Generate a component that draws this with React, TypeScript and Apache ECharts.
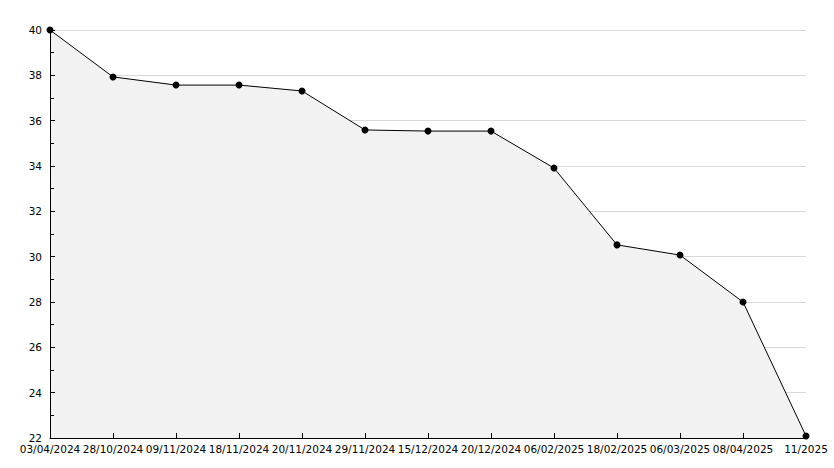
import React, { useEffect, useRef } from "react";
import * as echarts from "echarts";

const categories = [
  "03/04/2024", "28/10/2024", "09/11/2024", "18/11/2024", "20/11/2024",
  "29/11/2024", "15/12/2024", "20/12/2024", "06/02/2025", "18/02/2025",
  "06/03/2025", "08/04/2025", "11/2025",
];
const values = [40, 37.93, 37.57, 37.57, 37.31, 35.59, 35.54, 35.54, 33.91, 30.52, 30.07, 28.0, 22.09];
const yMin = 22;
const yMax = 40;
const yInterval = 2;
const gridValues = [24, 26, 28, 30, 32, 34, 36, 38, 40];

export default function App() {
  const ref = useRef<HTMLDivElement>(null);
  useEffect(() => {
    if (!ref.current) return;
    const chart = echarts.init(ref.current, null, { renderer: "svg" });
    const font = { fontFamily: "DejaVu Sans", fontSize: 10.5, color: "#000" };
    const areaLayer = (z: number) => ({
      type: "line",
      data: values,
      showSymbol: false,
      silent: true,
      lineStyle: { width: 0, opacity: 0 },
      itemStyle: { opacity: 1 },
      areaStyle: { color: "rgb(242,242,242)", opacity: 1, origin: "start" },
      z,
    });
    chart.setOption({
      animation: false,
      backgroundColor: "#fff",
      grid: { left: 50, right: 28, top: 30, bottom: 30, containLabel: false },
      xAxis: {
        type: "category",
        data: categories,
        boundaryGap: false,
        z: 30,
        axisLine: { show: true, lineStyle: { color: "#000", width: 1 } },
        axisTick: { show: true, inside: true, length: 5, interval: 0, lineStyle: { color: "#000" } },
        axisLabel: { ...font, margin: 5, interval: 0, showMaxLabel: true, showMinLabel: true },
        splitLine: { show: false },
      },
      yAxis: {
        type: "value",
        min: yMin,
        max: yMax,
        interval: yInterval,
        z: 30,
        axisLine: { show: true, lineStyle: { color: "#000", width: 1 } },
        axisTick: { show: true, inside: true, length: 5, lineStyle: { color: "#000" } },
        minorTick: { show: true, splitNumber: 2, length: 4, lineStyle: { color: "#000" } },
        axisLabel: { ...font, margin: 8 },
        splitLine: { show: false },
      },
      series: [
        {
          type: "line",
          data: [],
          z: 0,
          silent: true,
          markLine: {
            z: 0,
            silent: true,
            symbol: "none",
            label: { show: false },
            lineStyle: { color: "#d8d8d8", width: 1, type: "solid" },
            data: gridValues.map((v) => ({ yAxis: v })),
          },
        },
        areaLayer(8),
        areaLayer(9),
        {
          type: "line",
          data: values,
          showSymbol: false,
          lineStyle: { color: "#000", width: 1 },
          areaStyle: { color: "rgb(242,242,242)", opacity: 1, origin: "start" },
          z: 10,
        },
        {
          type: "scatter",
          data: values,
          symbol: "circle",
          symbolSize: 7,
          itemStyle: { color: "#000", opacity: 1 },
          z: 20,
        },
      ],
    });
    return () => chart.dispose();
  }, []);
  return <div ref={ref} style={{ width: 834, height: 468, position: "absolute", left: 0, top: 0 }} />;
}
